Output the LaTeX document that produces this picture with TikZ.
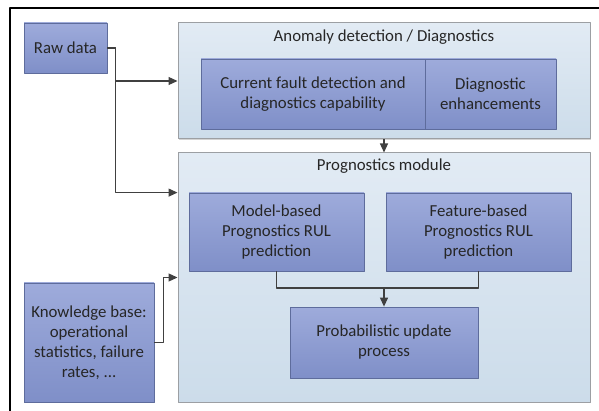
\documentclass[tikz,border=0pt]{standalone}
\usepackage{fontspec}
\setmainfont{Carlito}
\usetikzlibrary{arrows.meta,shadows}
\definecolor{boxtop}{HTML}{9EABDB}
\definecolor{boxbot}{HTML}{7F8FC8}
\definecolor{boxline}{HTML}{5E6C9C}
\definecolor{pantop}{HTML}{E2EBF4}
\definecolor{panbot}{HTML}{CCDCEA}
\definecolor{panline}{HTML}{9C9FA3}
\definecolor{wire}{HTML}{404040}
\begin{document}
\begin{tikzpicture}[x=1pt,y=-1pt,line join=round,>={Triangle[length=9pt,width=8pt]},
  every node/.style={font=\fontsize{16.8}{20}\selectfont,text=black!85,align=center,inner sep=0pt},
  panel/.style={draw=panline,line width=1pt,top color=pantop,bottom color=panbot,
    drop shadow={shadow xshift=1.2pt,shadow yshift=-1.2pt,opacity=0.35}},
  block/.style={draw=boxline,line width=0.8pt,top color=boxtop,bottom color=boxbot,
    drop shadow={shadow xshift=1pt,shadow yshift=-1pt,opacity=0.25}},
  wirel/.style={draw=wire,line width=1.2pt}]
\useasboundingbox (0,0) rectangle (599,411);
% frame of the page (cut off)
\draw[line width=2.5pt] (10,411) -- (10,8) -- (599,8);
% panels
\node[panel,minimum width=412pt,minimum height=116pt] (anom) at (384,81) {};
\node (anomtitle) at (384,37) {Anomaly detection / Diagnostics};
\node[panel,minimum width=412pt,minimum height=249pt] (prog) at (384,277.5) {};
\node (progtitle) at (384,166) {Prognostics module};
% blocks
\node[block,minimum width=83pt,minimum height=50pt] (raw) at (65.5,48) {Raw data};
\node[block,minimum width=224pt,minimum height=70pt] (cur) at (313,94) {Current fault detection and\\diagnostics capability};
\node[block,minimum width=131pt,minimum height=70pt] (diag) at (490.5,94) {Diagnostic\\enhancements};
\node[block,minimum width=175pt,minimum height=78pt] (model) at (276.5,232) {Model-based\\Prognostics RUL\\prediction};
\node[block,minimum width=185pt,minimum height=78pt] (feat) at (478.5,232) {Feature-based\\Prognostics RUL\\prediction};
\node[block,minimum width=188pt,minimum height=71pt] (prob) at (384,342.5) {Probabilistic update\\process};
\node[block,minimum width=130pt,minimum height=119pt] (kb) at (89,342.5) {Knowledge base:\\operational\\statistics, failure\\rates, ...};
% connectors
\coordinate (join) at (384,288);
\draw[wirel,->] (raw.east) -- ++(8,0) |- (anom.west);
\draw[wirel,->] (raw.east) -- ++(8,0) |- (prog.west |- model.north);
\draw[wirel,->] (kb.east) -- ++(9,0) |- (prog.west);
\draw[wirel,->] (anom.south) -- (prog.north);
\draw[wirel] (model.south) |- (join);
\draw[wirel] (feat.south) |- (join);
\draw[wirel,->] (join) -- (prob.north);
\end{tikzpicture}
\end{document}
